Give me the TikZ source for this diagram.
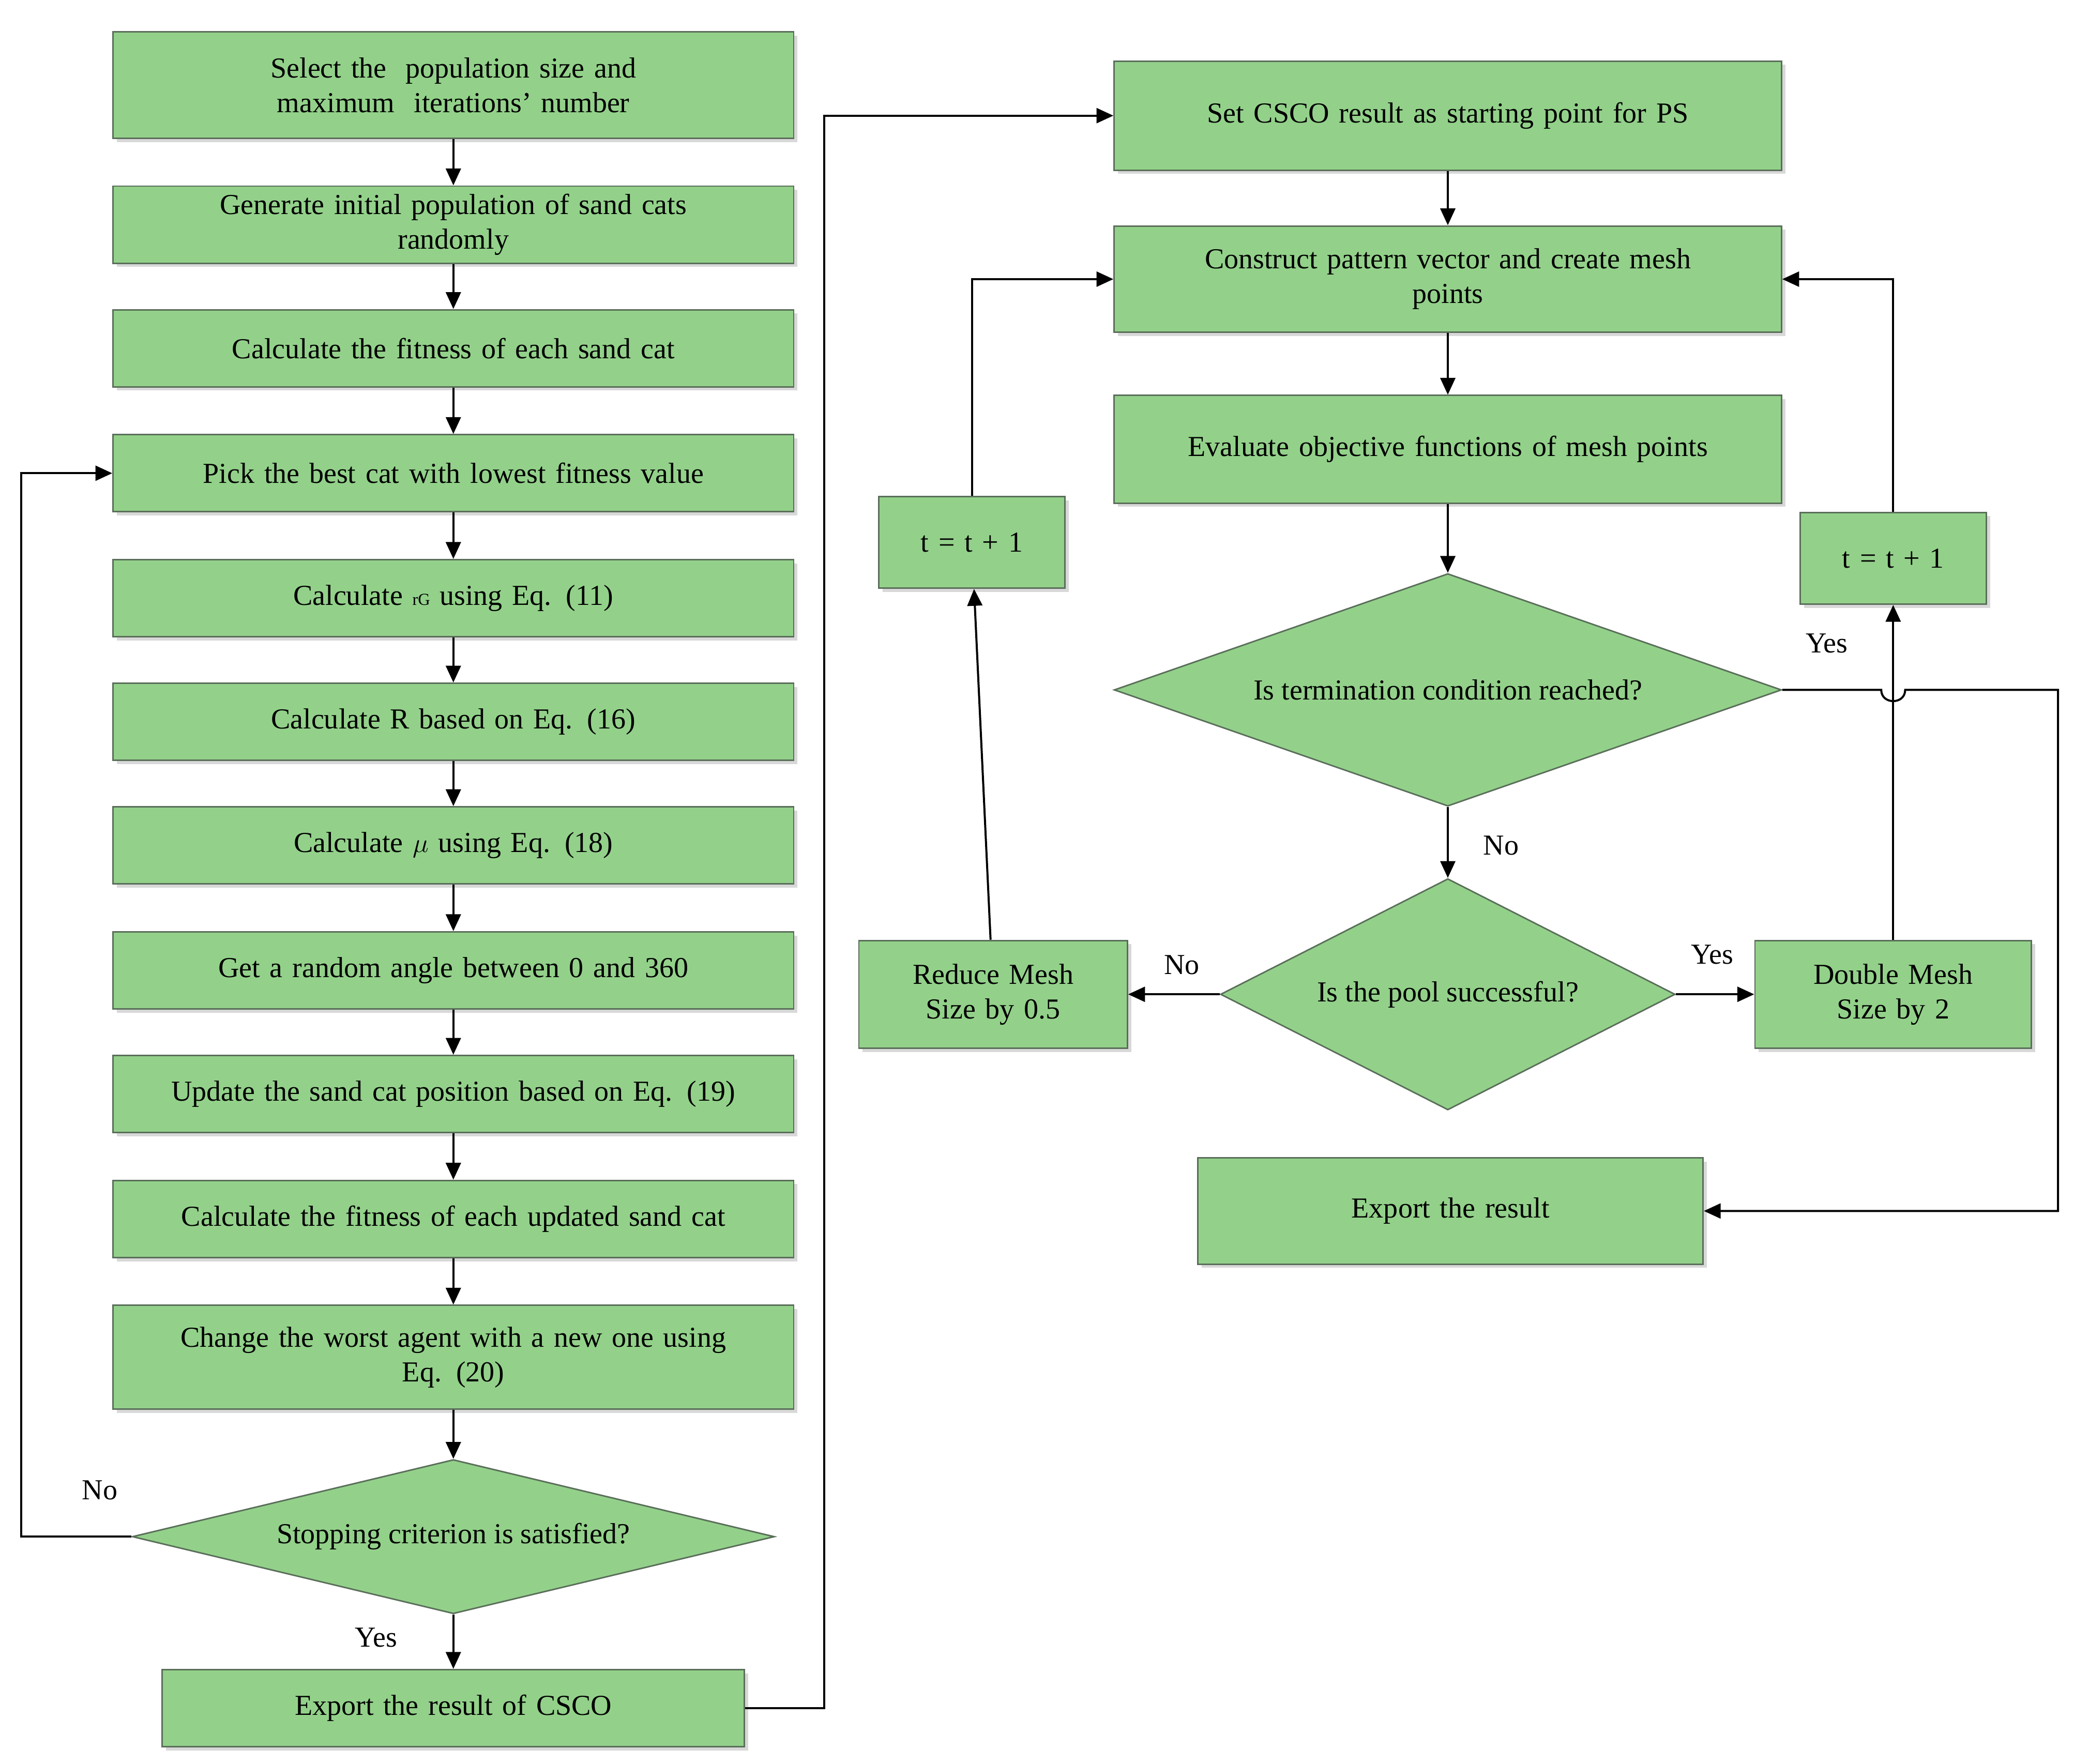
\documentclass[tikz,border=0pt]{standalone}
\usepackage{fontspec}
\setmainfont{Liberation Serif}
\usetikzlibrary{shapes.geometric,arrows.meta,shadows}
\definecolor{gf}{RGB}{147,209,138}
\definecolor{gd}{RGB}{90,110,90}
\begin{document}
\begin{tikzpicture}[x=0.025cm,y=-0.025cm,
  font=\fontsize{15.5}{18.5}\selectfont,
  box/.style={draw=gd,fill=gf,line width=0.8pt,align=center,inner sep=2pt,
    drop shadow={shadow xshift=2pt,shadow yshift=-2pt,fill=black!30}},
  dia/.style={draw=gd,fill=gf,line width=0.8pt,diamond,aspect=2.8,inner sep=0pt,align=center},
  arr/.style={-{Triangle[length=9pt,width=8pt]},line width=1.1pt},
  ln/.style={line width=1.1pt}]
\useasboundingbox (0,0) rectangle (1560,1327);
\newcommand{\bx}[6]{\node[box,minimum width=#3*0.025cm,minimum height=#4*0.025cm,text width=(#3-20)*0.025cm] (#5) at (#1,#2) {#6};}
\bx{341}{64}{512}{80}{a1}{Select the\ \ population size and\\maximum\ \ iterations' number}
\bx{341}{169}{512}{58}{a2}{Generate initial population of sand cats\\randomly}
\bx{341}{262}{512}{58}{a3}{Calculate the fitness of each sand cat}
\bx{341}{356}{512}{58}{a4}{Pick the best cat with lowest fitness value}
\bx{341}{450}{512}{58}{a5}{Calculate {\small rG} using Eq. (11)}
\bx{341}{543}{512}{58}{a6}{Calculate R based on Eq. (16)}
\bx{341}{636}{512}{58}{a7}{Calculate $\mu$ using Eq. (18)}
\bx{341}{730}{512}{58}{a8}{Get a random angle between 0 and 360}
\bx{341}{823}{512}{58}{a9}{Update the sand cat position based on Eq. (19)}
\bx{341}{917}{512}{58}{a10}{Calculate the fitness of each updated sand cat}
\bx{341}{1021}{512}{78}{a11}{Change the worst agent with a new one using\\Eq. (20)}
\node[dia,minimum width=483*0.025cm,minimum height=116*0.025cm] (a12) at (341,1156) {Stopping criterion is satisfied?};
\bx{341}{1285}{438}{58}{a13}{Export the result of CSCO}
\bx{1089}{87}{502}{82}{b1}{Set CSCO result as starting point for PS}
\bx{1089}{210}{502}{80}{b2}{Construct pattern vector and create mesh\\points}
\bx{1089}{338}{502}{81}{b3}{Evaluate objective functions of mesh points}
\node[dia,minimum width=502*0.025cm,minimum height=175*0.025cm] (b4) at (1089,519) {Is termination condition reached?};
\node[dia,minimum width=342*0.025cm,minimum height=174*0.025cm] (b5) at (1089,748) {Is the pool successful?};
\bx{747}{748}{202}{81}{b6}{Reduce Mesh\\Size by 0.5}
\bx{1424}{748}{208}{81}{b7}{Double Mesh\\Size by 2}
\bx{731}{408}{140}{69}{b8}{t = t + 1}
\bx{1424}{420}{140}{69}{b9}{t = t + 1}
\bx{1091}{911}{380}{80}{b10}{Export the result}
\foreach \u/\v in {a1/a2,a2/a3,a3/a4,a4/a5,a5/a6,a6/a7,a7/a8,a8/a9,a9/a10,a10/a11,a11/a12,a12/a13,b1/b2,b2/b3,b3/b4,b4/b5,b5/b6,b5/b7,b6/b8,b7/b9}
  \draw[arr] (\u) -- (\v);
\draw[arr] (a12.west) -- (16,1156) |- (a4.west);
\draw[arr] (a13.east) -- (620,1285) |- (b1.west);
\draw[arr] (b8.north) |- (b2.west);
\draw[arr] (b9.north) |- (b2.east);
\draw[arr] (b4.east) -- (1415,519) to[out=-90,in=-90,looseness=1.6] (1433,519) -- (1548,519) |- (b10.east);
\node at (75,1121) {No};
\node at (283,1232) {Yes};
\node at (1129,636) {No};
\node at (889,726) {No};
\node at (1288,718) {Yes};
\node at (1374,484) {Yes};
\end{tikzpicture}
\end{document}
